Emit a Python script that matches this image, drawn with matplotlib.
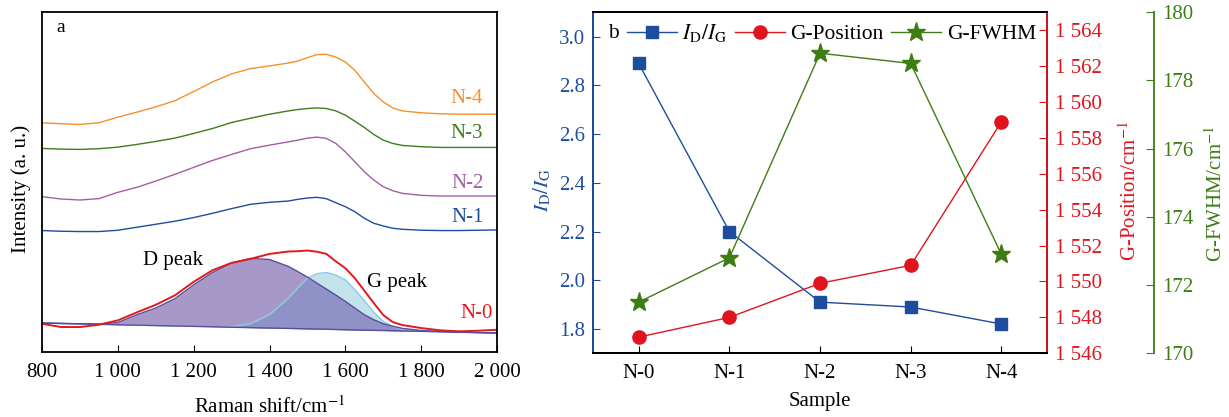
import numpy as np
import matplotlib.pyplot as plt
from matplotlib.lines import Line2D

plt.rcParams['font.family'] = ['Liberation Serif', 'DejaVu Serif']
plt.rcParams['mathtext.fontset'] = 'stix'

# ---- panel a: Raman spectra (intensity in a.u., offsets as plotted) ----
raman_shift = [800, 850, 900, 950, 1000, 1050, 1100, 1150, 1200, 1250, 1300, 1350, 1400, 1450,
               1475, 1500, 1525, 1550, 1575, 1600, 1625, 1650, 1675, 1700, 1725, 1750,
               1800, 1850, 1900, 1950, 2000]
n4 = [229.7, 228.7, 228.0, 229.7, 235.3, 240.3, 245.7, 251.7, 261.0, 270.7, 278.7, 284.0, 286.7, 289.6,
      291.6, 295.0, 298.0, 298.3, 295.6, 290.6, 282.3, 270.6, 259.0, 250.6, 244.6, 241.6,
      239.7, 238.7, 238.3, 238.3, 238.3]
n3 = [204.0, 203.3, 203.0, 203.7, 205.3, 208.0, 211.0, 214.3, 219.0, 224.0, 230.0, 234.3, 238.3, 241.6,
      243.0, 244.0, 244.6, 244.0, 241.6, 237.3, 231.3, 225.0, 218.0, 212.3, 209.0, 207.0,
      205.7, 205.0, 205.0, 205.0, 205.0]
n2 = [155.7, 153.3, 152.3, 153.7, 160.0, 165.0, 171.3, 178.0, 185.0, 192.0, 198.0, 203.7, 207.3, 210.6,
      212.3, 214.3, 215.3, 214.0, 209.0, 200.6, 190.6, 180.6, 172.3, 165.6, 161.6, 159.0,
      157.0, 156.3, 156.3, 156.3, 156.3]
n1 = [121.7, 121.0, 120.7, 120.7, 122.0, 125.0, 128.0, 131.0, 134.7, 139.0, 143.7, 148.0, 150.0, 151.3,
      153.0, 154.3, 155.0, 153.6, 149.6, 145.6, 140.6, 134.0, 129.0, 126.3, 124.0, 123.0,
      122.0, 121.7, 121.7, 122.0, 122.3]
n0 = [28.3, 25.0, 25.0, 27.3, 31.7, 39.7, 47.3, 56.7, 70.3, 82.0, 89.3, 93.3, 98.3, 100.7,
      101.0, 101.7, 100.5, 98.3, 90.8, 84.0, 74.0, 61.5, 49.0, 37.0, 30.0, 27.0,
      24.0, 21.7, 20.7, 21.3, 22.3]
fit_base = [29.0, 28.6, 28.2, 27.8, 27.3, 26.9, 26.5, 26.1, 25.7, 25.3, 24.8, 24.4, 24.0, 23.6,
            23.4, 23.2, 23.0, 22.8, 22.5, 22.3, 22.1, 21.9, 21.7, 21.5, 21.3, 21.1,
            20.7, 20.3, 19.8, 19.4, 19.0]
d_peak = [29.0, 28.6, 28.3, 28.0, 29.5, 37.3, 44.0, 53.3, 67.3, 79.7, 89.3, 93.7, 92.7, 85.7,
          80.5, 75.0, 69.0, 63.0, 57.0, 50.7, 44.0, 37.3, 32.3, 28.3, 25.8, 23.7,
          21.5, 20.6, 20.0, 19.5, 19.0]
g_peak = [29.0, 28.6, 28.2, 27.8, 27.3, 26.9, 26.5, 26.1, 25.7, 25.3, 25.3, 28.5, 37.5, 54.0,
          64.5, 74.0, 78.5, 79.7, 77.0, 72.3, 62.5, 51.5, 40.0, 30.7, 25.5, 22.5,
          20.8, 20.3, 19.8, 19.4, 19.0]
spectra = [('N-4', n4, '#f7902b', 254), ('N-3', n3, '#3d7d1c', 219),
           ('N-2', n2, '#a45ea6', 169), ('N-1', n1, '#1f4d9e', 135), ('N-0', n0, '#e31a1c', 39)]
x_ticks = [800, 1000, 1200, 1400, 1600, 1800, 2000]
x_ticklabels = ['800', '1 000', '1 200', '1 400', '1 600', '1 800', '2 000']

# ---- panel b ----
samples = ['N-0', 'N-1', 'N-2', 'N-3', 'N-4']
id_ig = [2.89, 2.20, 1.91, 1.89, 1.82]
g_position = [1546.9, 1548.0, 1549.9, 1550.9, 1558.9]
g_fwhm = [171.5, 172.8, 178.8, 178.5, 172.9]
pos_ticks = [1546, 1548, 1550, 1552, 1554, 1556, 1558, 1560, 1562, 1564]

fig = plt.figure(figsize=(12.29, 4.17), dpi=100)

ax = fig.add_axes([0.0342, 0.1559, 0.3702, 0.8153])
x = np.array(raman_shift)
base = np.array(fit_base)
d = np.array(d_peak)
g = np.array(g_peak)
ax.fill_between(x, base, d, color='#a898c8', lw=0)
ax.fill_between(x, base, g, color='#c2e2ec', lw=0)
ax.fill_between(x, base, np.minimum(d, g), color='#8e92c6', lw=0)
ax.plot(x, g, color='#8ccbe2', lw=1.0)
ax.plot(x, d, color='#5b4b9e', lw=1.0)
ax.plot(x, base, color='#5b4b9e', lw=1.0)
for name, vals, col, ylab in spectra:
    ax.plot(x, vals, color=col, lw=1.4 if name == 'N-0' else 1.0)
    xr = 1989 if name == 'N-0' else 1964
    ax.text(xr, ylab, name, color=col, fontsize=15, ha='right', va='center')
ax.text(1145, 92, 'D peak', fontsize=15, ha='center', va='center')
ax.text(1735, 70, 'G peak', fontsize=15, ha='center', va='center')
ax.text(838, 325, 'a', fontsize=14, ha='left', va='center')
ax.set_xlim(800, 2000)
ax.set_ylim(0, 340.7)
ax.set_xticks(x_ticks)
ax.set_xticklabels(x_ticklabels)
ax.set_yticks([])
ax.tick_params(axis='x', direction='in', length=5, labelsize=15, pad=8)
ax.set_xlabel('Raman shift/cm$^{-1}$', fontsize=15, labelpad=10)
ax.set_ylabel('Intensity (a. u.)', fontsize=15, labelpad=8, y=0.48)
for s in ax.spines.values():
    s.set_linewidth(1.3)

# panel b
blue, red, green = '#1f4d9e', '#e0141e', '#3d7d14'
bx = fig.add_axes([0.4828, 0.1528, 0.3689, 0.8177])
rx = bx.twinx()
gx = bx.twinx()
gx.spines['right'].set_position(('axes', 1.2366))
pos = np.arange(len(samples))
bx.plot(pos, id_ig, color=blue, lw=1.0, marker='s', ms=8.5)
rx.plot(pos, g_position, color=red, lw=1.0, marker='o', ms=9.5)
gx.plot(pos, g_fwhm, color=green, lw=1.0, marker='*', ms=14)
bx.set_xlim(-0.5, 4.5)
bx.set_xticks(pos)
bx.set_xticklabels(samples)
bx.set_ylim(1.7, 3.1)
bx.set_yticks([1.8, 2.0, 2.2, 2.4, 2.6, 2.8, 3.0])
bx.set_yticklabels(['1.8', '2.0', '2.2', '2.4', '2.6', '2.8', '3.0'])
rx.set_ylim(1546, 1565)
rx.set_yticks(pos_ticks)
rx.set_yticklabels(['1 %d' % (v - 1000) for v in pos_ticks])
gx.set_ylim(170, 180)
gx.set_yticks([170, 172, 174, 176, 178, 180])
bx.tick_params(axis='x', direction='in', length=5, labelsize=15, pad=8)
bx.tick_params(axis='y', direction='in', length=5, labelsize=15, colors=blue, pad=6)
rx.tick_params(axis='y', direction='in', length=6, labelsize=15, colors=red, pad=6)
gx.tick_params(axis='y', direction='in', length=6, labelsize=15, colors=green, pad=6)
bx.spines['left'].set_color(blue)
rx.spines['left'].set_color(blue)
gx.spines['left'].set_color(blue)
rx.spines['right'].set_color(red)
gx.spines['right'].set_color(green)
for a_ in (bx, rx, gx):
    for s in a_.spines.values():
        s.set_linewidth(1.3)
bx.set_xlabel('Sample', fontsize=15, labelpad=6)
bx.set_ylabel(r'$I_{\mathrm{D}}/I_{\mathrm{G}}$', fontsize=15, color=blue, labelpad=4, y=0.478)
rx.set_ylabel('G-Position/cm$^{-1}$', fontsize=15, color=red, labelpad=12, y=0.4745)
gx.set_ylabel('G-FWHM/cm$^{-1}$', fontsize=15, color=green, labelpad=8, y=0.467)
gx.text(0.032, 0.938, 'b', transform=bx.transAxes, fontsize=15.5, ha='left', va='center')
handles = [Line2D([], [], color=blue, lw=1.0, marker='s', ms=8.5),
           Line2D([], [], color=red, lw=1.0, marker='o', ms=9.5),
           Line2D([], [], color=green, lw=1.0, marker='*', ms=14)]
gx.legend(handles, [r'$I_{\mathrm{D}}/I_{\mathrm{G}}$', 'G-Position', 'G-FWHM'],
          loc='center left', bbox_to_anchor=(0.0737, 0.938), ncol=3, frameon=False,
          fontsize=15.5, handlelength=2.33, handletextpad=0.25, columnspacing=0.35,
          borderpad=0, borderaxespad=0)

fig.savefig('out.png', dpi=100)
